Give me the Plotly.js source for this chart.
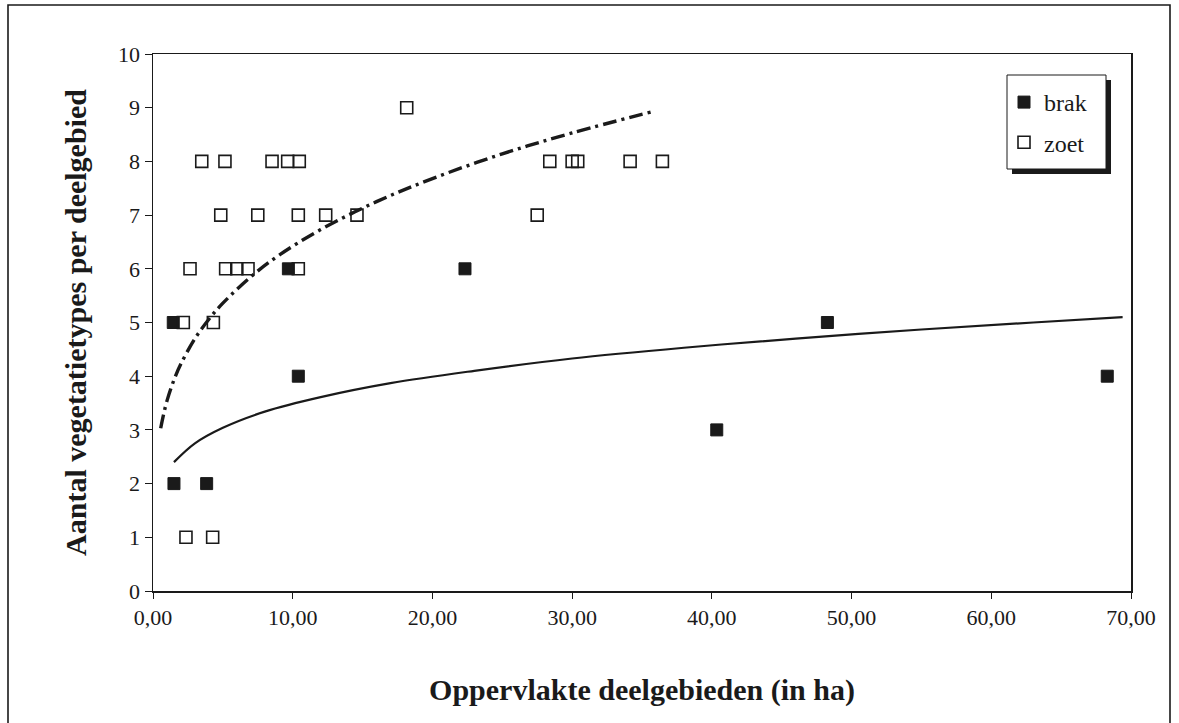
<!DOCTYPE html>
<html>
<head>
<meta charset="utf-8">
<script src="https://cdn.plot.ly/plotly-3.0.1.min.js"></script>
<style>html,body{margin:0;padding:0;background:#fff}#chart{width:1179px;height:723px}</style>
</head>
<body>
<div id="chart"></div>
<script>
// brak (brackish) sub-areas
const brakX = [1.5, 3.84, 1.45, 9.69, 10.4, 22.33, 40.35, 48.27, 68.3];
const brakY = [2, 2, 5, 6, 4, 6, 3, 5, 4];
// zoet (fresh) sub-areas
const zoetX = [2.36, 4.27, 2.17, 4.32, 2.65, 5.2, 6.0, 6.8, 10.4, 4.85, 7.5, 10.4, 12.36, 14.6, 27.5,
               3.49, 5.15, 8.52, 9.64, 10.47, 28.4, 30.0, 30.4, 34.15, 36.46, 18.16];
const zoetY = [1, 1, 5, 5, 6, 6, 6, 6, 6, 7, 7, 7, 7, 7, 7,
               8, 8, 8, 8, 8, 8, 8, 8, 8, 8, 9];
// trend lines
const brakTrendX = [1.5, 3, 5, 8, 12, 17, 23, 30, 38, 46, 55, 63, 69.4];
const brakTrendY = [2.4, 2.75, 3.04, 3.34, 3.61, 3.87, 4.1, 4.33, 4.53, 4.7, 4.87, 5.0, 5.1];
const zoetTrendX = [0.55, 0.75, 1, 1.5, 2, 3, 4, 5, 7, 9, 12, 16, 20, 25, 30, 35.8];
const zoetTrendY = [3.03, 3.28, 3.54, 3.93, 4.23, 4.7, 5.06, 5.36, 5.85, 6.25, 6.73, 7.25, 7.68, 8.14, 8.53, 8.93];
// tick labels
const xTickVals = [0, 10, 20, 30, 40, 50, 60, 70];
const xTickText = ['0,00', '10,00', '20,00', '30,00', '40,00', '50,00', '60,00', '70,00'];
const yTickVals = [0, 1, 2, 3, 4, 5, 6, 7, 8, 9, 10];

const serif = '"Liberation Serif", "Times New Roman", serif';
const ink = '#1a1a1a';

const traces = [
  {x: zoetTrendX, y: zoetTrendY, mode: 'lines', line: {color: ink, width: 3.4, dash: '14px,5px,3px,5px', shape: 'spline'}, showlegend: false, hoverinfo: 'skip'},
  {x: brakTrendX, y: brakTrendY, mode: 'lines', line: {color: ink, width: 2.2, shape: 'spline'}, showlegend: false, hoverinfo: 'skip'},
  {x: brakX, y: brakY, name: 'brak', mode: 'markers', legendgroup: 'a',
   marker: {symbol: 'square', size: 12, color: ink, line: {color: ink, width: 1}}},
  {x: zoetX, y: zoetY, name: 'zoet', mode: 'markers', legendgroup: 'b',
   marker: {symbol: 'square-open', size: 12, color: ink, line: {color: ink, width: 1.6}}}
];

// pixel -> paper helpers for decorative shapes
const L = 153, R = 1131, T = 54, B = 591;
const px = v => (v - L) / (R - L);
const py = v => (B - v) / (B - T);

const layout = {
  width: 1179, height: 723,
  margin: {l: L, r: 1179 - R, t: T, b: 723 - B, pad: 0},
  paper_bgcolor: '#fff', plot_bgcolor: '#fff',
  font: {family: serif, color: ink, size: 22},
  xaxis: {
    range: [0, 70], tickvals: xTickVals, ticktext: xTickText,
    showgrid: false, zeroline: false, showline: true, mirror: true, linecolor: ink, linewidth: 1.5,
    ticks: 'outside', ticklen: 6, tickcolor: ink, tickwidth: 1,
    tickfont: {family: serif, size: 22, color: ink},
    title: {text: '<b>Oppervlakte deelgebieden (in ha)</b>', font: {family: serif, size: 30, color: ink}, standoff: 50}
  },
  yaxis: {
    range: [0, 10], tickvals: yTickVals,
    showgrid: false, zeroline: false, showline: true, mirror: true, linecolor: ink, linewidth: 1.5,
    ticks: 'outside', ticklen: 7, tickcolor: ink, tickwidth: 1,
    tickfont: {family: serif, size: 22, color: ink},
    title: {text: '<b>Aantal vegetatietypes per deelgebied</b>', font: {family: serif, size: 30, color: ink}, standoff: 22}
  },
  legend: {
    x: px(1004), y: py(80), xanchor: 'left', yanchor: 'top',
    bgcolor: 'rgba(0,0,0,0)', borderwidth: 0,
    font: {family: serif, size: 24, color: ink},
    traceorder: 'grouped', tracegroupgap: 6, itemwidth: 30
  },
  shapes: [
    {type: 'rect', xref: 'paper', yref: 'paper', x0: px(1012), x1: px(1111), y0: py(174), y1: py(80),
     fillcolor: ink, line: {width: 0}, layer: 'above'},
    {type: 'rect', xref: 'paper', yref: 'paper', x0: px(1007), x1: px(1106), y0: py(169), y1: py(75),
     fillcolor: '#fff', line: {color: ink, width: 1}, layer: 'above'},
    {type: 'rect', xref: 'paper', yref: 'paper', x0: px(8), x1: px(1170), y0: py(740), y1: py(5),
     fillcolor: 'rgba(0,0,0,0)', line: {color: ink, width: 1.6}, layer: 'below'}
  ],
  showlegend: true
};

Plotly.newPlot('chart', traces, layout, {staticPlot: true, displayModeBar: false});
</script>
</body>
</html>
